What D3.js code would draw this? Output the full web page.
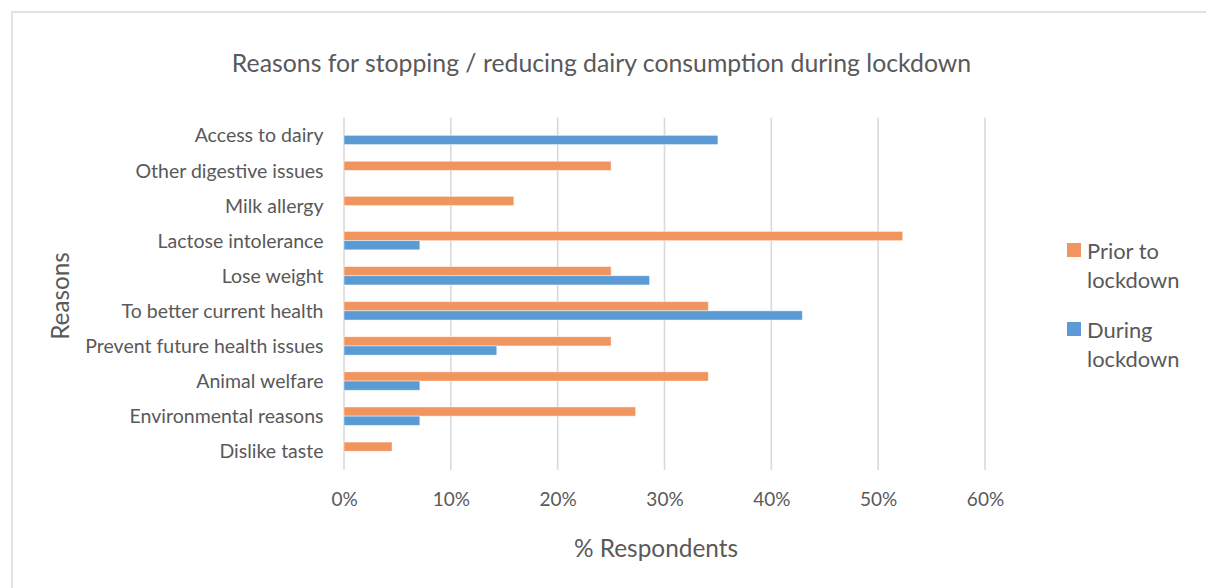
<!DOCTYPE html>
<html>
<head>
<meta charset="utf-8">
<script src="https://cdn.jsdelivr.net/npm/d3@7"></script>
<style>
  html, body { margin: 0; padding: 0; background: #fff; }
  svg { display: block; font-family: Lato, "Open Sans", sans-serif; }
</style>
</head>
<body>
<svg id="chart" width="1206" height="588"></svg>
<script>
// Reasons, listed top to bottom
const categories = [
  "Access to dairy",
  "Other digestive issues",
  "Milk allergy",
  "Lactose intolerance",
  "Lose weight",
  "To better current health",
  "Prevent future health issues",
  "Animal welfare",
  "Environmental reasons",
  "Dislike taste"
];
// % respondents per reason
const priorToLockdown = [0, 25.0, 15.9, 52.3, 25.0, 34.1, 25.0, 34.1, 27.3, 4.5];
const duringLockdown  = [35.0, 0, 0, 7.1, 28.6, 42.9, 14.3, 7.1, 7.1, 0];
const seriesNames = ["Prior to lockdown", "During lockdown"];
const tickValues = [0, 10, 20, 30, 40, 50, 60];

const colors = { "Prior to lockdown": "#F1955F", "During lockdown": "#5B9BD5" };
const textColor = "#595959";

const svg = d3.select("#chart");

// outer chart frame
svg.append("rect")
  .attr("x", 12).attr("y", 12)
  .attr("width", 1220).attr("height", 600)
  .attr("fill", "#fff")
  .attr("stroke", "#d9d9d9").attr("stroke-width", 1.5);

const plot = { left: 344, right: 985, top: 117.8, bottom: 468.8 };

const x = d3.scaleLinear().domain([0, 60]).range([plot.left, plot.right]);
const y = d3.scaleBand().domain(categories)
  .range([plot.top, plot.bottom])
  .paddingInner(0.476).paddingOuter(0.238);
const ySub = d3.scaleBand().domain(seriesNames).range([0, y.bandwidth()]);

// vertical gridlines
svg.append("g").selectAll("line")
  .data(tickValues).join("line")
  .attr("x1", d => x(d)).attr("x2", d => x(d))
  .attr("y1", plot.top).attr("y2", 470)
  .attr("stroke", "#d9d9d9").attr("stroke-width", 1.6);

// x axis tick labels
const xAxis = d3.axisBottom(x).tickValues(tickValues)
  .tickFormat(d => d + "%").tickSize(0).tickPadding(0);
const gx = svg.append("g").attr("transform", `translate(0, 492)`).call(xAxis);
gx.select(".domain").remove();
gx.selectAll("text")
  .attr("fill", textColor).attr("font-size", 19)
  .attr("font-family", "Lato, 'Open Sans', sans-serif");

// category labels
const yAxis = d3.axisLeft(y).tickSize(0).tickPadding(0);
const gy = svg.append("g").attr("transform", `translate(323.5, 0.8)`).call(yAxis);
gy.select(".domain").remove();
gy.selectAll("text")
  .attr("fill", textColor).attr("font-size", 19.5)
  .attr("font-family", "Lato, 'Open Sans', sans-serif");

// bars
const rows = categories.map((c, i) => ({
  category: c,
  values: [
    { series: seriesNames[0], value: priorToLockdown[i] },
    { series: seriesNames[1], value: duringLockdown[i] }
  ]
}));

svg.append("g").selectAll("g")
  .data(rows).join("g")
  .attr("transform", d => `translate(0, ${y(d.category)})`)
  .selectAll("rect")
  .data(d => d.values.filter(v => v.value > 0)).join("rect")
  .attr("x", x(0))
  .attr("y", d => ySub(d.series))
  .attr("width", d => x(d.value) - x(0))
  .attr("height", ySub.bandwidth())
  .attr("fill", d => colors[d.series])
  .attr("stroke", "rgba(255,255,255,0.55)")
  .attr("stroke-width", 0.8);

// title
svg.append("text")
  .attr("x", 601.5).attr("y", 62)
  .attr("text-anchor", "middle").attr("dominant-baseline", "central")
  .attr("fill", textColor).attr("font-size", 24.8)
  .text("Reasons for stopping / reducing dairy consumption during lockdown");

// axis titles
svg.append("text")
  .attr("x", 656).attr("y", 547)
  .attr("text-anchor", "middle").attr("dominant-baseline", "central")
  .attr("fill", textColor).attr("font-size", 24.4)
  .text("% Respondents");

svg.append("text")
  .attr("transform", "translate(59, 296) rotate(-90)")
  .attr("text-anchor", "middle").attr("dominant-baseline", "central")
  .attr("fill", textColor).attr("font-size", 24.3)
  .text("Reasons");

// legend
const legendItems = [
  { name: seriesNames[0], lines: ["Prior to", "lockdown"], top: 243 },
  { name: seriesNames[1], lines: ["During", "lockdown"], top: 322 }
];
const lg = svg.append("g").selectAll("g").data(legendItems).join("g");
lg.append("rect")
  .attr("x", 1067).attr("y", d => d.top)
  .attr("width", 14).attr("height", 14)
  .attr("fill", d => colors[d.name]);
lg.append("text")
  .attr("fill", textColor).attr("font-size", 21.9)
  .selectAll("tspan").data(d => d.lines.map((l, i) => ({ l, i, top: d.top }))).join("tspan")
  .attr("x", 1087)
  .attr("y", d => d.top + 7 + d.i * 29.5)
  .attr("dominant-baseline", "central")
  .text(d => d.l);
</script>
</body>
</html>
